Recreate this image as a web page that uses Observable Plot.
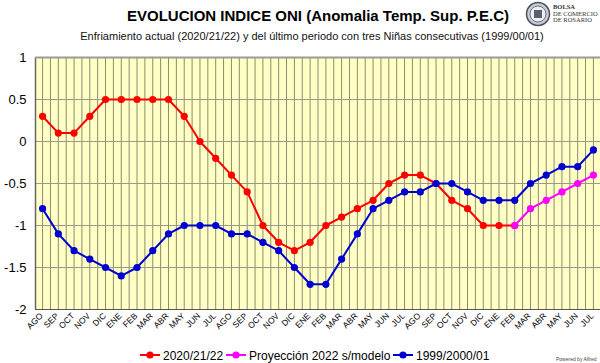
<!DOCTYPE html>
<html>
<head>
<meta charset="utf-8">
<script src="https://cdn.jsdelivr.net/npm/d3@7"></script>
<script src="https://cdn.jsdelivr.net/npm/@observablehq/plot@0.6"></script>
<style>
  html, body { margin: 0; padding: 0; background: #fff; }
  #root { position: relative; width: 600px; height: 363px; overflow: hidden; font-family: "Liberation Sans", Arial, sans-serif; }
  #root svg { position: absolute; left: 0; }
</style>
</head>
<body>
<div id="root"></div>
<script>
// ---- data ----
const monthLabels = ["AGO","SEP","OCT","NOV","DIC","ENE","FEB","MAR","ABR","MAY","JUN","JUL",
                     "AGO","SEP","OCT","NOV","DIC","ENE","FEB","MAR","ABR","MAY","JUN","JUL",
                     "AGO","SEP","OCT","NOV","DIC","ENE","FEB","MAR","ABR","MAY","JUN","JUL"];
const serie2020 = [0.3,0.1,0.1,0.3,0.5,0.5,0.5,0.5,0.5,0.3,0.0,-0.2,
                   -0.4,-0.6,-1.0,-1.2,-1.3,-1.2,-1.0,-0.9,-0.8,-0.7,-0.5,-0.4,
                   -0.4,-0.5,-0.7,-0.8,-1.0,-1.0,-1.0];
const proyeccionStart = 30; // index (FEB) where projection begins
const proyeccion2022 = [-1.0,-0.8,-0.7,-0.6,-0.5,-0.4];
const serie1999 = [-0.8,-1.1,-1.3,-1.4,-1.5,-1.6,-1.5,-1.3,-1.1,-1.0,-1.0,-1.0,
                   -1.1,-1.1,-1.2,-1.3,-1.5,-1.7,-1.7,-1.4,-1.1,-0.8,-0.7,-0.6,
                   -0.6,-0.5,-0.5,-0.6,-0.7,-0.7,-0.7,-0.5,-0.4,-0.3,-0.3,-0.1];
const yTicks = [-2,-1.5,-1,-0.5,0,0.5,1];
const seriesNames = ["2020/21/22","Proyección 2022 s/modelo","1999/2000/01"];
const seriesColors = ["#ff0000","#ff00ff","#0000d0"];

const title = "EVOLUCION INDICE ONI (Anomalia Temp. Sup. P.E.C)";
const subtitle = "Enfriamiento actual (2020/21/22) y del último periodo con tres Niñas consecutivas (1999/00/01)";

// ---- build ----
const root = document.getElementById("root");
const NS = "http://www.w3.org/2000/svg";
function el(tag, attrs, parent, text) {
  const e = document.createElementNS(NS, tag);
  for (const k in attrs) e.setAttribute(k, attrs[k]);
  if (text !== undefined) e.textContent = text;
  if (parent) parent.appendChild(e);
  return e;
}

// header
const head = el("svg", {width: 600, height: 45, style: "top:0"}, root);
el("text", {x: 318, y: 21, "text-anchor": "middle", "font-size": 15, "font-weight": "bold", fill: "#000",
  "font-family": "Liberation Sans, Arial, sans-serif"}, head, title);
el("text", {x: 312, y: 40, "text-anchor": "middle", "font-size": 11, fill: "#111",
  "font-family": "Liberation Sans, Arial, sans-serif"}, head, subtitle);
// logo
el("circle", {cx: 538, cy: 14, r: 11.5, fill: "#c8ccd4", stroke: "#4a5060", "stroke-width": 1.5}, head);
el("circle", {cx: 538, cy: 14, r: 8, fill: "#eef0f4", stroke: "#6a7080", "stroke-width": 1}, head);
el("rect", {x: 534, y: 10, width: 8, height: 8, fill: "#5a6070"}, head);
const lf = "Liberation Serif, Times New Roman, serif";
el("text", {x: 553, y: 9, "font-size": 6.5, "font-weight": "bold", fill: "#333", "font-family": lf}, head, "BOLSA");
el("text", {x: 553, y: 15.5, "font-size": 6.5, fill: "#333", "font-family": lf}, head, "DE COMERCIO");
el("text", {x: 553, y: 22, "font-size": 6.5, fill: "#333", "font-family": lf}, head, "DE ROSARIO");

// plot
const d2020 = serie2020.map((v, i) => ({i, v}));
const dProy = proyeccion2022.map((v, k) => ({i: proyeccionStart + k, v}));
const d1999 = serie1999.map((v, i) => ({i, v}));
const halfSteps = d3.range(0, monthLabels.length * 2).map(k => k / 2);

const chart = Plot.plot({
  width: 600,
  height: 295,
  marginLeft: 35,
  marginRight: 0,
  marginTop: 12,
  marginBottom: 31,
  style: {fontFamily: "Liberation Sans, Arial, sans-serif", background: "transparent", overflow: "visible"},
  x: {type: "linear", domain: [-0.45, 35.45]},
  y: {domain: [-2, 1]},
  marks: [
    Plot.frame({fill: "#ffffc6", stroke: null}),
    Plot.ruleX(halfSteps, {x: d => d, stroke: "#8c8c70", strokeWidth: 1}),
    Plot.ruleY(yTicks, {y: d => d, stroke: "#9a9a8a", strokeWidth: 1}),
    Plot.ruleX([-0.45], {stroke: "#666", strokeWidth: 1.5}),
    Plot.ruleY([1], {stroke: "#9a9a9a", strokeWidth: 2}),
    Plot.ruleY([-2], {stroke: "#555", strokeWidth: 1.2}),
    Plot.axisX({ticks: d3.range(monthLabels.length), tickFormat: i => monthLabels[i], tickRotate: -45,
      tickSize: 0, tickPadding: 5, dx: -1, fontSize: 8.5, fill: "#000", label: null}),
    Plot.axisY({ticks: yTicks, tickFormat: d => String(d), tickSize: 0, tickPadding: 9,
      fontSize: 13, fill: "#000", label: null}),
    Plot.line(d2020, {x: "i", y: "v", stroke: seriesColors[0], strokeWidth: 2}),
    Plot.dot(d2020, {x: "i", y: "v", fill: seriesColors[0], r: 3.6}),
    Plot.line(dProy, {x: "i", y: "v", stroke: seriesColors[1], strokeWidth: 2}),
    Plot.dot(dProy, {x: "i", y: "v", fill: seriesColors[1], r: 3.6}),
    Plot.line(d1999, {x: "i", y: "v", stroke: seriesColors[2], strokeWidth: 2}),
    Plot.dot(d1999, {x: "i", y: "v", fill: seriesColors[2], r: 3.6})
  ]
});
chart.style.position = "absolute";
chart.style.top = "45px";
chart.style.left = "0px";
root.appendChild(chart);

// legend
const leg = el("svg", {width: 600, height: 23, style: "top:340px"}, root);
const legX = [140, 226, 393];
seriesNames.forEach((name, k) => {
  const x0 = legX[k];
  el("line", {x1: x0, x2: x0 + 20, y1: 15, y2: 15, stroke: seriesColors[k], "stroke-width": 2}, leg);
  el("circle", {cx: x0 + 10, cy: 15, r: 3.6, fill: seriesColors[k]}, leg);
  el("text", {x: x0 + 23, y: 19.5, "font-size": 12, fill: "#000",
    "font-family": "Liberation Sans, Arial, sans-serif"}, leg, name);
});
el("text", {x: 556, y: 21, "font-size": 5, fill: "#444",
  "font-family": "Liberation Sans, Arial, sans-serif"}, leg, "Powered by Alfred");
</script>
</body>
</html>
